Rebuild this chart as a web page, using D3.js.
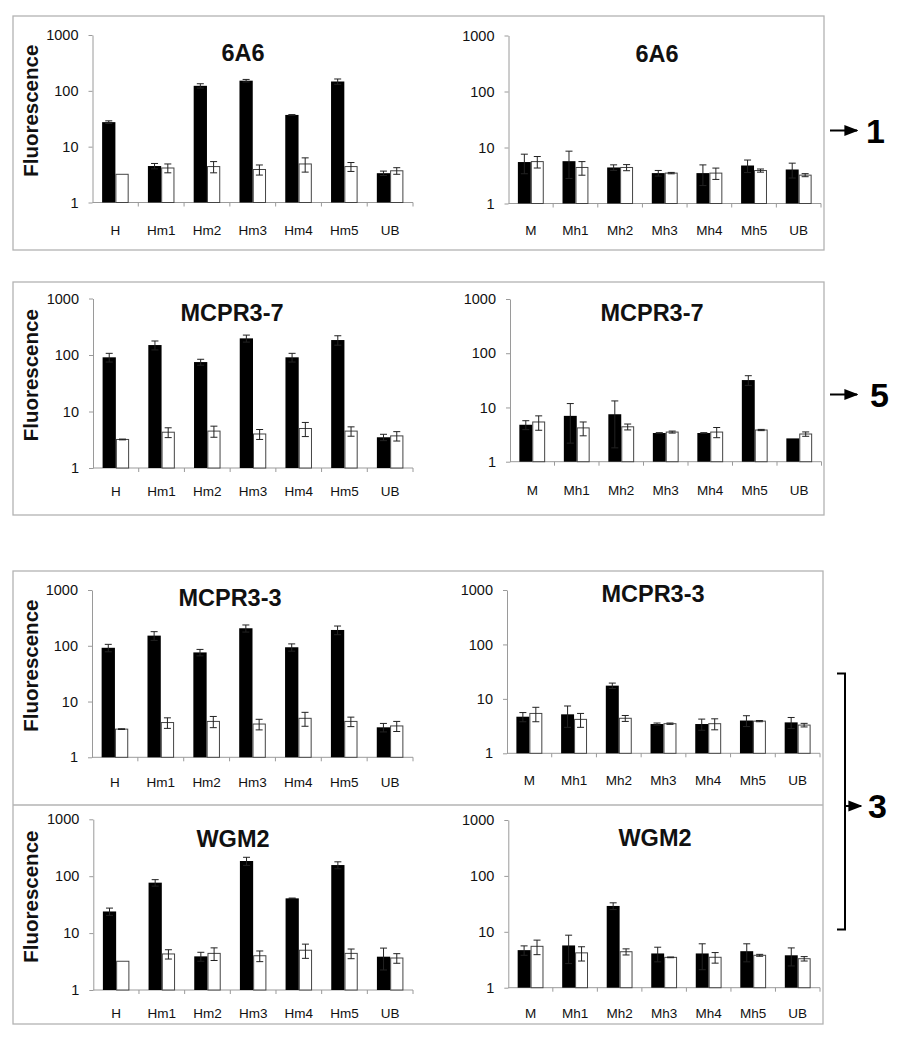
<!DOCTYPE html>
<html><head><meta charset="utf-8">
<script src="https://cdn.jsdelivr.net/npm/d3@7"></script>
<style>body{margin:0;background:#fff} svg{display:block;font-family:"Liberation Sans",Arial,Helvetica,sans-serif}</style>
</head><body><svg id="c" width="902" height="1050"></svg>
<script>
// ---------- data ----------
const catsH = ["H","Hm1","Hm2","Hm3","Hm4","Hm5","UB"];
const catsM = ["M","Mh1","Mh2","Mh3","Mh4","Mh5","UB"];
const yTicks = [1,10,100,1000];
const yLabel = "Fluorescence";
const sideLabels = ["1","5","3"];

// 6A6
const a6A6_H_black    = [27.5, 4.5, 123, 152, 37, 147, 3.35];
const a6A6_H_blackErr = [1.5, 0.5, 11, 8, 0.5, 16, 0.3];
const a6A6_H_white    = [3.2, 4.15, 4.4, 3.9, 4.9, 4.4, 3.7];
const a6A6_H_whiteErr = [0, 0.75, 1.0, 0.8, 1.4, 0.8, 0.5];
const a6A6_M_black    = [5.5, 5.7, 4.4, 3.49, 3.49, 4.77, 4.05];
const a6A6_M_blackErr = [2.1, 2.9, 0.5, 0.4, 1.4, 1.2, 1.2];
const a6A6_M_white    = [5.6, 4.4, 4.4, 3.49, 3.49, 3.88, 3.21];
const a6A6_M_whiteErr = [1.3, 1.2, 0.55, 0.1, 0.8, 0.25, 0.2];

// MCPR3-7
const m37_H_black    = [91, 150, 75, 197, 91, 184, 3.5];
const m37_H_blackErr = [16, 27, 9, 28, 16, 35, 0.45];
const m37_H_white    = [3.2, 4.3, 4.5, 4.0, 5.0, 4.5, 3.7];
const m37_H_whiteErr = [0.05, 0.85, 1.0, 0.8, 1.4, 0.85, 0.7];
const m37_M_black    = [4.8, 7.0, 7.5, 3.38, 3.38, 32, 2.69];
const m37_M_blackErr = [0.9, 4.8, 5.7, 0.05, 0.05, 6.5, 0];
const m37_M_white    = [5.4, 4.2, 4.4, 3.52, 3.52, 3.84, 3.24];
const m37_M_whiteErr = [1.6, 1.2, 0.55, 0.15, 0.75, 0.1, 0.3];

// MCPR3-3
const m33_H_black    = [92, 152, 76, 206, 94, 192, 3.45];
const m33_H_blackErr = [14, 27, 10, 30, 14, 34, 0.6];
const m33_H_white    = [3.2, 4.2, 4.4, 3.95, 5.0, 4.4, 3.65];
const m33_H_whiteErr = [0.05, 0.9, 1.0, 0.85, 1.4, 0.85, 0.75];
const m33_M_black    = [4.7, 5.2, 17.5, 3.45, 3.45, 4.0, 3.7];
const m33_M_blackErr = [0.9, 2.2, 2.0, 0.15, 0.8, 0.9, 0.85];
const m33_M_white    = [5.4, 4.2, 4.4, 3.5, 3.5, 3.9, 3.3];
const m33_M_whiteErr = [1.6, 1.2, 0.55, 0.1, 0.8, 0.1, 0.25];

// WGM2
const wgm_H_black    = [24, 77, 3.9, 185, 40.8, 157, 3.85];
const wgm_H_blackErr = [3.5, 10, 0.7, 30, 0.5, 22, 1.6];
const wgm_H_white    = [3.2, 4.3, 4.4, 4.0, 5.0, 4.4, 3.65];
const wgm_H_whiteErr = [0, 0.8, 1.1, 0.85, 1.4, 0.85, 0.7];
const wgm_M_black    = [4.7, 5.7, 29, 4.1, 4.1, 4.5, 3.8];
const wgm_M_blackErr = [0.9, 3.0, 4, 1.2, 2.0, 1.6, 1.35];
const wgm_M_white    = [5.5, 4.2, 4.4, 3.49, 3.5, 3.8, 3.3];
const wgm_M_whiteErr = [1.6, 1.2, 0.55, 0.05, 0.75, 0.15, 0.3];

// ---------- layout ----------
const panels = [
 {title:"6A6", cats:catsH, blk:a6A6_H_black, blkE:a6A6_H_blackErr, wht:a6A6_H_white, whtE:a6A6_H_whiteErr,
  x0:92.5, x1:413, yT:35, yB:202.5, tx:243, ty:52, lab:235, ylab:true},
 {title:"6A6", cats:catsM, blk:a6A6_M_black, blkE:a6A6_M_blackErr, wht:a6A6_M_white, whtE:a6A6_M_whiteErr,
  x0:508.5, x1:821, yT:35.5, yB:203.5, tx:657, ty:53, lab:235, ylab:false},
 {title:"MCPR3-7", cats:catsH, blk:m37_H_black, blkE:m37_H_blackErr, wht:m37_H_white, whtE:m37_H_whiteErr,
  x0:93, x1:413, yT:298.5, yB:468, tx:232, ty:312, lab:496, ylab:true},
 {title:"MCPR3-7", cats:catsM, blk:m37_M_black, blkE:m37_M_blackErr, wht:m37_M_white, whtE:m37_M_whiteErr,
  x0:510, x1:821.5, yT:299, yB:461.7, tx:652, ty:312, lab:495, ylab:false},
 {title:"MCPR3-3", cats:catsH, blk:m33_H_black, blkE:m33_H_blackErr, wht:m33_H_white, whtE:m33_H_whiteErr,
  x0:92, x1:413, yT:590, yB:757.3, tx:230, ty:597, lab:787, ylab:true},
 {title:"MCPR3-3", cats:catsM, blk:m33_M_black, blkE:m33_M_blackErr, wht:m33_M_white, whtE:m33_M_whiteErr,
  x0:507, x1:820, yT:590, yB:753.3, tx:653, ty:593, lab:785, ylab:false},
 {title:"WGM2", cats:catsH, blk:wgm_H_black, blkE:wgm_H_blackErr, wht:wgm_H_white, whtE:wgm_H_whiteErr,
  x0:93.3, x1:413, yT:819.3, yB:990, tx:233, ty:838, lab:1018, ylab:true},
 {title:"WGM2", cats:catsM, blk:wgm_M_black, blkE:wgm_M_blackErr, wht:wgm_M_white, whtE:wgm_M_whiteErr,
  x0:508.3, x1:820, yT:820, yB:987.7, tx:655, ty:837, lab:1018, ylab:false}
];

const svg = d3.select("#c");
const boxColor = "#b3b3b3", axisColor = "#9a9a9a", textColor = "#111";

// boxes
[[13,16,811,234],[13,282,811,233],[13,571,810,453]].forEach(b=>{
  svg.append("rect").attr("x",b[0]).attr("y",b[1]).attr("width",b[2]).attr("height",b[3])
    .attr("fill","none").attr("stroke",boxColor).attr("stroke-width",1.3);
});
svg.append("line").attr("x1",13).attr("x2",823).attr("y1",805).attr("y2",805)
  .attr("stroke",boxColor).attr("stroke-width",1.3);

panels.forEach(p=>{
  const x = d3.scaleBand().domain(p.cats).range([p.x0,p.x1]);
  const y = d3.scaleLog().domain([1,1000]).range([p.yB,p.yT]);
  const g = svg.append("g");
  const bw = x.bandwidth()*0.29;

  // y axis
  const ya = g.append("g").attr("transform",`translate(${p.x0},0)`)
    .call(d3.axisLeft(y).tickValues(yTicks).tickFormat(d3.format("d")).tickSize(4).tickPadding(10).tickSizeOuter(0));
  ya.selectAll("path,line").attr("stroke",axisColor);
  ya.selectAll("text").attr("font-size",14.5).attr("fill",textColor).attr("font-family","Liberation Sans, Arial, sans-serif");

  // x axis line with ticks at band boundaries
  g.append("line").attr("x1",p.x0).attr("x2",p.x1).attr("y1",p.yB).attr("y2",p.yB).attr("stroke",axisColor);
  const bounds = p.cats.slice(1).map(c=>x(c)).concat([p.x1]);
  g.selectAll(".xt").data(bounds).enter().append("line")
    .attr("x1",d=>d).attr("x2",d=>d).attr("y1",p.yB).attr("y2",p.yB+4).attr("stroke",axisColor);
  g.selectAll(".xl").data(p.cats).enter().append("text")
    .attr("x",d=>x(d)+x.bandwidth()/2).attr("y",p.lab).attr("text-anchor","middle")
    .attr("font-size",13.5).attr("fill",textColor).text(d=>d);

  // bars
  const cx = c=>x(c)+x.bandwidth()/2;
  g.selectAll(".bb").data(p.cats).enter().append("rect")
    .attr("x",d=>cx(d)-bw).attr("width",bw)
    .attr("y",(d,i)=>y(p.blk[i])).attr("height",(d,i)=>p.yB-y(p.blk[i]))
    .attr("fill","#000");
  g.selectAll(".wb").data(p.cats).enter().append("rect")
    .attr("x",d=>cx(d)+0.5).attr("width",bw-1)
    .attr("y",(d,i)=>y(p.wht[i])).attr("height",(d,i)=>p.yB-y(p.wht[i]))
    .attr("fill","#fff").attr("stroke","#444").attr("stroke-width",1);

  // error bars
  const err = (vals, errs, off) => {
    p.cats.forEach((c,i)=>{
      const e = errs[i]; if(!(e>0)) return;
      const xc = cx(c)+off;
      const hi = y(vals[i]+e), lo = y(Math.max(1.01, vals[i]-e));
      g.append("line").attr("x1",xc).attr("x2",xc).attr("y1",hi).attr("y2",lo).attr("stroke","#222").attr("stroke-width",1);
      [hi,lo].forEach(yy=>g.append("line").attr("x1",xc-3.5).attr("x2",xc+3.5).attr("y1",yy).attr("y2",yy)
        .attr("stroke","#222").attr("stroke-width",1));
    });
  };
  err(p.blk,p.blkE,-bw/2);
  err(p.wht,p.whtE,bw/2);

  // title
  g.append("text").attr("x",p.tx).attr("y",p.ty+8.5).attr("text-anchor","middle")
    .attr("font-size",23.5).attr("font-weight","bold").attr("fill",textColor).text(p.title);

  if(p.ylab){
    const cy = (p.yT+p.yB)/2-8;
    g.append("text").attr("transform",`translate(37.5,${cy}) rotate(-90)`).attr("text-anchor","middle")
      .attr("font-size",20.5).attr("font-weight","bold").attr("fill",textColor).text(yLabel);
  }
});

// right-side annotations
const defs = svg.append("defs");
defs.append("marker").attr("id","ah").attr("viewBox","0 0 10 10").attr("refX",9).attr("refY",5)
  .attr("markerWidth",7).attr("markerHeight",7).attr("orient","auto")
  .append("path").attr("d","M0,1 L10,5 L0,9 Z").attr("fill","#000");
const arrow = (x1,x2,yy)=>svg.append("line").attr("x1",x1).attr("x2",x2).attr("y1",yy).attr("y2",yy)
  .attr("stroke","#000").attr("stroke-width",2).attr("marker-end","url(#ah)");
arrow(830,857,130.5);
svg.append("text").attr("x",866).attr("y",142.5).attr("font-size",34).attr("font-weight","bold").text(sideLabels[0]);
arrow(830,857,394.5);
svg.append("text").attr("x",870).attr("y",406.5).attr("font-size",34).attr("font-weight","bold").text(sideLabels[1]);
svg.append("path").attr("d","M837,673.5 H845 V929.5 H837").attr("fill","none").attr("stroke","#000").attr("stroke-width",2);
arrow(845,861,806);
svg.append("text").attr("x",868).attr("y",818).attr("font-size",34).attr("font-weight","bold").text(sideLabels[2]);
</script></body></html>
